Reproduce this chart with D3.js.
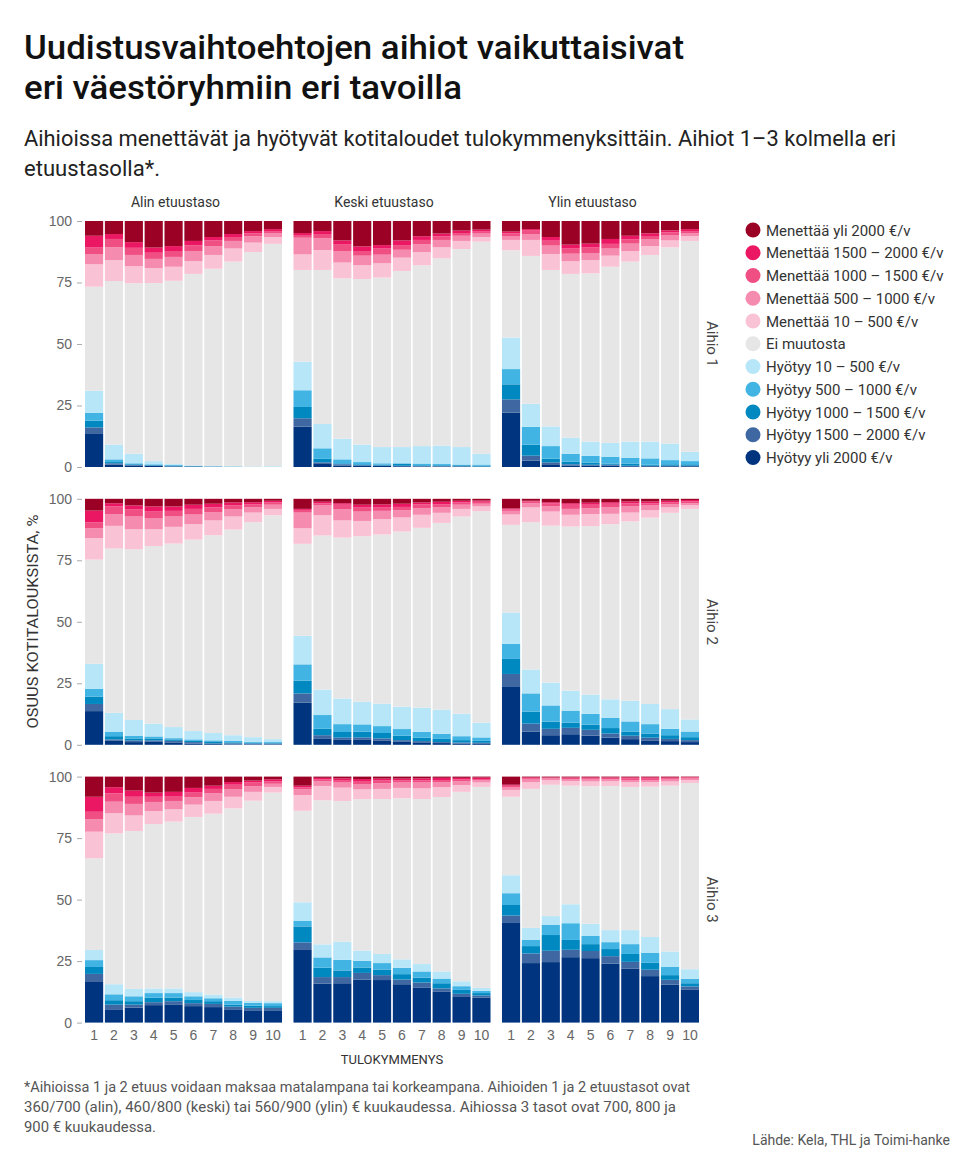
<!DOCTYPE html>
<html>
<head>
<meta charset="utf-8">
<script src="https://cdn.jsdelivr.net/npm/d3@7"></script>
<style>
  body { margin: 0; background: #fff; }
  svg { display: block; font-family: Roboto, "Noto Sans", sans-serif; }
</style>
</head>
<body>
<svg id="chart" width="960" height="1154"></svg>
<script>
// stack order, bottom to top
const categories = [
  "Hyötyy yli 2000 €/v",
  "Hyötyy 1500 – 2000 €/v",
  "Hyötyy 1000 – 1500 €/v",
  "Hyötyy 500 – 1000 €/v",
  "Hyötyy 10 – 500 €/v",
  "Ei muutosta",
  "Menettää 10 – 500 €/v",
  "Menettää 500 – 1000 €/v",
  "Menettää 1000 – 1500 €/v",
  "Menettää 1500 – 2000 €/v",
  "Menettää yli 2000 €/v",
];
const colors = [
  "#00347f", "#3f68a2", "#0088c0", "#41b4e3", "#b7e6f9",
  "#e6e6e6",
  "#fac3d5", "#f68bb0", "#f04f84", "#ec1763", "#9b0025",
];
const deciles = ["1", "2", "3", "4", "5", "6", "7", "8", "9", "10"];
const levels = ["Alin etuustaso", "Keski etuustaso", "Ylin etuustaso"];
const models = ["Aihio 1", "Aihio 2", "Aihio 3"];
const yTicks = [0, 25, 50, 75, 100];

// shares (%) per decile, values in the category order above
const a1_alin = [
  [13.7, 2.4, 2.7, 3.2, 9, 42.3, 9.1, 4, 2.8, 4.8, 6],
  [1, 0.5, 0.5, 1.1, 6, 66.5, 8.5, 5.2, 3.4, 2, 5.3],
  [0.5, 0.3, 0.3, 0.4, 3.9, 69.3, 6.9, 4.6, 2.9, 2.3, 8.6],
  [0.4, 0.2, 0.2, 0.3, 1.3, 72.4, 6, 3.8, 2.5, 2.1, 10.8],
  [0.2, 0.1, 0.3, 0.3, 0.3, 74.5, 5.7, 4, 2.4, 2, 10.2],
  [0.1, 0.1, 0.2, 0.1, 0.1, 77.9, 5.2, 4.1, 2.3, 1.8, 8.1],
  [0.1, 0, 0.1, 0.1, 0.1, 80.2, 5.6, 3.6, 2.3, 1.4, 6.5],
  [0, 0, 0.1, 0.1, 0.1, 83.2, 5.3, 3.1, 1.6, 1.2, 5.3],
  [0, 0, 0, 0.1, 0.1, 87.2, 3.8, 2.6, 1.2, 0.9, 4.1],
  [0, 0, 0, 0.1, 0.2, 90.4, 2.7, 1.7, 0.8, 0.8, 3.3],
];
const a1_keski = [
  [16.4, 3.4, 4.6, 6.8, 11.6, 37.3, 6.3, 6.8, 1.1, 0.8, 4.9],
  [1.5, 0.4, 1.4, 4.3, 9.9, 62.6, 8.1, 4.8, 1.7, 1.2, 4.1],
  [0.5, 0.6, 0.4, 1.6, 8.4, 65.2, 6.4, 4.7, 2.6, 1.7, 7.9],
  [0.4, 0.3, 0.4, 0.9, 7.1, 67.3, 5.7, 3.8, 1.9, 1.9, 10.3],
  [0.4, 0.2, 0.4, 0.5, 6.6, 68.9, 5.8, 3.5, 2.5, 1.4, 9.8],
  [0.3, 0.2, 0.9, 0.1, 6.6, 71.6, 5.4, 3.2, 1.9, 1.9, 7.9],
  [0.2, 0.2, 0.3, 0.7, 7.1, 73.5, 5.3, 3.2, 1.8, 1.5, 6.2],
  [0.2, 0.2, 0.3, 0.5, 7.5, 76.1, 4.5, 3, 1.5, 1.1, 5.1],
  [0.2, 0.1, 0.4, 0.3, 7.1, 80.5, 3.3, 2.1, 1.1, 1, 3.9],
  [0.1, 0.1, 0.4, 0.4, 4.4, 86.2, 1.9, 1.4, 0.8, 0.8, 3.5],
];
const a1_ylin = [
  [22.1, 5.4, 6.1, 6.2, 12.8, 35.5, 4.2, 1.6, 1.1, 0.7, 4.3],
  [2.6, 2, 4.5, 7.2, 9.4, 60.1, 6.5, 2.4, 1.4, 0.6, 3.3],
  [1.1, 0.8, 1.5, 5.1, 8, 63.6, 6.5, 3.4, 2, 1.5, 6.5],
  [0.5, 0.6, 1.1, 3.2, 6.5, 66.6, 5.1, 3.1, 2.1, 1.6, 9.6],
  [0.6, 0.3, 0.9, 2.7, 5.8, 68.4, 5.4, 2.9, 2.2, 1.6, 9.2],
  [0.6, 0.3, 0.5, 2.8, 5.6, 71.6, 4.5, 2.9, 1.9, 2, 7.3],
  [0.3, 0.2, 0.9, 2.4, 6.5, 73.2, 4.3, 3, 1.7, 1.5, 6],
  [0.3, 0.2, 0.4, 2.6, 6.8, 75.9, 3.6, 2.7, 1.4, 1.1, 5],
  [0.3, 0.2, 0.6, 1.7, 6.7, 79.8, 2.8, 2.2, 1.1, 0.8, 3.8],
  [0.3, 0.2, 0.6, 1.3, 3.8, 85.7, 1.9, 1.3, 0.8, 0.8, 3.3],
];
const a2_alin = [
  [13.7, 2.9, 3, 3.2, 10.1, 42.4, 8.7, 4, 2.4, 4.8, 4.8],
  [1.6, 0.6, 1.3, 1.7, 7.8, 66.8, 9.2, 4.8, 3.1, 1.3, 1.8],
  [1.1, 0.7, 0.8, 1.1, 6.4, 69.4, 8.1, 5.2, 3, 1.5, 2.7],
  [1.2, 0.6, 0.8, 0.8, 5.2, 72.2, 6.8, 4.4, 2.8, 2.1, 3.1],
  [0.8, 0.8, 0.6, 0.5, 4.5, 74.6, 6.8, 4.2, 2.3, 1.8, 3.1],
  [0.5, 0.6, 0.5, 0.6, 3.4, 77.8, 6.3, 3.9, 2.3, 1.7, 2.4],
  [0.3, 0.3, 0.8, 0.4, 3, 80.4, 6, 3.4, 1.9, 1.5, 2],
  [0.2, 0.4, 0.4, 0.6, 2.3, 83.6, 5.3, 3, 1.6, 1.1, 1.5],
  [0.2, 0.3, 0.3, 0.4, 1.9, 87.4, 3.9, 2.2, 1.2, 0.8, 1.4],
  [0.2, 0.3, 0.2, 0.4, 1.2, 91, 2.6, 1.7, 1, 0.6, 0.8],
];
const a2_keski = [
  [17.1, 3.8, 5.2, 6.6, 11.6, 37.4, 6.3, 6.4, 1.1, 0.4, 4.1],
  [2.4, 1.5, 2.6, 5.6, 10.3, 62.7, 8.2, 4, 0.8, 0.7, 1.2],
  [2, 0.9, 2.3, 3.2, 10.4, 65.4, 7, 4.5, 1.9, 0.6, 1.8],
  [2, 1, 2.3, 3, 9.2, 67.3, 6.2, 3.8, 1.8, 1, 2.4],
  [1.6, 1, 2.2, 2.8, 9.1, 68.8, 6.2, 3.4, 1.5, 1.1, 2.3],
  [1.2, 0.7, 1.8, 2.7, 9.1, 71.2, 5.7, 3, 1.3, 1.3, 2],
  [1, 0.5, 1.4, 2.4, 9.8, 73.1, 5.3, 2.7, 1.5, 0.8, 1.5],
  [0.7, 0.4, 1.3, 2.1, 9.8, 75.9, 4.1, 2.3, 1.2, 1, 1.2],
  [0.5, 0.4, 1, 1.6, 9.1, 80.2, 3.1, 1.7, 0.9, 0.7, 0.8],
  [0.4, 0.4, 0.8, 1.4, 6, 86, 1.9, 1.1, 0.8, 0.5, 0.7],
];
const a2_ylin = [
  [23.5, 5.3, 6.1, 6.1, 12.8, 35.6, 4.2, 1.5, 0.6, 0.4, 3.9],
  [5.3, 3.3, 4.9, 7.4, 9.7, 59.9, 6, 1.7, 0.7, 0.3, 0.8],
  [3.9, 2.6, 2.9, 6.6, 9.3, 63.8, 5.7, 2.2, 1.1, 0.5, 1.4],
  [4.3, 2.6, 2.1, 4.9, 8.1, 66.7, 4.8, 2.4, 1.7, 0.6, 1.8],
  [3.7, 2.4, 2.1, 4.4, 7.8, 68.5, 4.9, 2.4, 1.4, 0.8, 1.6],
  [2.9, 1.7, 2.2, 4.1, 7.6, 71.2, 4.2, 2.7, 1.4, 0.6, 1.4],
  [2.3, 1.4, 1.7, 4.1, 8.4, 72.9, 3.6, 2.5, 1.2, 0.8, 1.1],
  [1.6, 1.3, 1.7, 3.8, 8.2, 75.7, 3.1, 1.9, 0.9, 0.7, 1.1],
  [1.5, 0.9, 1.5, 2.6, 8, 79.8, 2.2, 1.3, 0.8, 0.6, 0.8],
  [1.1, 0.8, 1.2, 2.3, 4.9, 85.6, 1.5, 0.8, 0.7, 0.6, 0.5],
];
const a3_alin = [
  [16.8, 3, 2.8, 2.8, 4.1, 37.3, 10.8, 5.1, 3, 6.1, 8.2],
  [5.4, 1.9, 1.8, 2.4, 4.1, 61.3, 8.2, 4.7, 3.4, 2.5, 4.3],
  [6.1, 1.2, 1.4, 2, 3, 64.2, 6.3, 4.7, 2.9, 2.5, 5.7],
  [7.1, 1.2, 1.8, 1.9, 1.9, 66.8, 5.3, 3.7, 2.1, 1.7, 6.5],
  [7.2, 1.5, 1.5, 1.8, 1.9, 67.8, 5, 3.4, 2, 1.7, 6.2],
  [6.7, 1.2, 1.3, 1.5, 1.7, 71.2, 5, 3, 1.9, 1.9, 4.6],
  [6.3, 1.3, 1.1, 1.2, 1.5, 73.5, 5.2, 3.1, 1.8, 1.3, 3.7],
  [5.4, 1.1, 0.8, 1.5, 1.4, 76.9, 4.7, 3, 1.9, 1.1, 2.2],
  [5, 1, 0.9, 1.1, 0.8, 81.4, 3.6, 2.3, 1.5, 0.8, 1.6],
  [5, 1, 0.7, 1.2, 0.8, 84.8, 2.3, 1.3, 1, 0.8, 1.1],
];
const a3_keski = [
  [29.8, 2.8, 6.5, 2.2, 7.6, 37.2, 6.4, 2.3, 0.9, 0.6, 3.7],
  [15.8, 2.7, 3.8, 4.2, 5.3, 58.6, 5.8, 1.9, 0.8, 0.6, 0.5],
  [16, 2.5, 2.7, 4.3, 7.4, 57.2, 5.4, 2.1, 1, 0.7, 0.7],
  [17.5, 2.7, 2.2, 2.7, 4.2, 61.5, 4, 2.2, 1.2, 0.8, 1],
  [17.3, 2, 2.3, 2.6, 3.7, 63, 4.1, 2.3, 1.1, 0.8, 0.8],
  [15.6, 1.9, 2.2, 2.6, 3.4, 65.5, 4.2, 2.2, 0.9, 0.7, 0.8],
  [14.3, 2, 2, 2.5, 3, 67.1, 4.3, 2.4, 0.9, 0.8, 0.7],
  [12.5, 1.4, 2.1, 1.9, 2.9, 70.9, 4, 2, 0.9, 0.9, 0.5],
  [10.7, 1, 1.6, 1.5, 2, 77, 2.8, 1.5, 0.8, 0.6, 0.5],
  [10.1, 0.9, 1, 0.9, 1.2, 81.7, 1.8, 0.9, 0.5, 0.6, 0.4],
];
const a3_ylin = [
  [40.5, 3, 4.3, 4.8, 7.3, 31.9, 2.8, 1.1, 0.6, 0.4, 3.3],
  [24.2, 3.9, 3, 2.6, 4.8, 56.5, 2.7, 1.1, 0.5, 0.4, 0.3],
  [24.6, 4.6, 6.4, 4.2, 3.5, 53.4, 1.8, 0.7, 0.3, 0.2, 0.3],
  [26.6, 3, 4, 6.8, 7.7, 48.2, 1.9, 0.8, 0.5, 0.2, 0.3],
  [26.2, 2.9, 2.8, 3.3, 5, 55.9, 1.9, 0.8, 0.5, 0.4, 0.3],
  [24, 3, 2.9, 2.8, 4.9, 58.6, 1.9, 0.8, 0.6, 0.2, 0.3],
  [22, 2.7, 3.2, 4, 5.7, 58.2, 1.9, 0.9, 0.7, 0.4, 0.3],
  [18.9, 2.6, 2.8, 4, 6.5, 61.1, 1.9, 0.8, 0.6, 0.5, 0.3],
  [15.4, 2, 1.9, 3.3, 6.3, 67.4, 1.7, 0.8, 0.5, 0.4, 0.3],
  [13.5, 1.2, 1.3, 1.8, 3.9, 75.7, 1.2, 0.6, 0.4, 0.2, 0.2],
];

const panelData = [
  [a1_alin, a1_keski, a1_ylin],
  [a2_alin, a2_keski, a2_ylin],
  [a3_alin, a3_keski, a3_ylin],
];

const svg = d3.select("#chart");

// title block
const title = svg.append("g").attr("fill", "#111").attr("font-weight", 500).attr("font-size", 33);
title.append("text").attr("x", 24).attr("y", 59).attr("textLength", 660)
  .attr("lengthAdjust", "spacingAndGlyphs").text("Uudistusvaihtoehtojen aihiot vaikuttaisivat");
title.append("text").attr("x", 24).attr("y", 99).attr("textLength", 438)
  .attr("lengthAdjust", "spacingAndGlyphs").text("eri väestöryhmiin eri tavoilla");

const sub = svg.append("g").attr("fill", "#222").attr("font-size", 22);
sub.append("text").attr("x", 24).attr("y", 146).attr("textLength", 872)
  .attr("lengthAdjust", "spacingAndGlyphs")
  .text("Aihioissa menettävät ja hyötyvät kotitaloudet tulokymmenyksittäin. Aihiot 1\u20133 kolmella eri");
sub.append("text").attr("x", 24).attr("y", 176).attr("textLength", 136)
  .attr("lengthAdjust", "spacingAndGlyphs").text("etuustasolla*.");

// facet layout
const colBand = d3.scaleBand().domain(levels).range([85, 699]).paddingInner(0.055);
const rowBand = d3.scaleBand().domain(models).range([221, 1022.6]).paddingInner(0.1145);
const x = d3.scaleBand().domain(deciles).range([0, colBand.bandwidth()]).paddingInner(0.086);
const y = d3.scaleLinear().domain([0, 100]).range([rowBand.bandwidth(), 0]);
const color = d3.scaleOrdinal().domain(categories).range(colors);
const stack = d3.stack().keys(categories);

models.forEach((model, r) => {
  levels.forEach((level, c) => {
    const rows = panelData[r][c].map((vals, i) => {
      const o = { decile: deciles[i] };
      categories.forEach((k, j) => (o[k] = vals[j]));
      return o;
    });
    const series = stack(rows);

    const g = svg.append("g")
      .attr("transform", `translate(${colBand(level)},${rowBand(model)})`);

    g.selectAll("g.layer")
      .data(series)
      .join("g")
      .attr("class", "layer")
      .attr("fill", (d) => color(d.key))
      .selectAll("rect")
      .data((d) => d)
      .join("rect")
      .attr("x", (d) => x(d.data.decile))
      .attr("width", x.bandwidth())
      .attr("y", (d) => y(d[1]))
      .attr("height", (d) => Math.max(0, y(d[0]) - y(d[1])));

    // y axis only on the first column
    if (c === 0) {
      const ya = g.append("g")
        .attr("transform", "translate(-3,0)")
        .call(d3.axisLeft(y).tickValues(yTicks).tickSize(5).tickPadding(5));
      ya.select(".domain").remove();
      ya.selectAll("line").attr("stroke", "#aaa");
      ya.selectAll("text").attr("fill", "#666").attr("font-size", 14).attr("font-family", null);
    }

    // decile labels under the last row
    if (r === models.length - 1) {
      const xa = g.append("g")
        .attr("transform", `translate(0,${rowBand.bandwidth()})`)
        .call(d3.axisBottom(x).tickSize(0).tickPadding(7));
      xa.select(".domain").remove();
      xa.selectAll("text").attr("fill", "#666").attr("font-size", 14).attr("font-family", null);
    }

    if (r === 0) {
      svg.append("text")
        .attr("x", colBand(level) + colBand.bandwidth() / 2 - 8)
        .attr("y", 207)
        .attr("text-anchor", "middle")
        .attr("fill", "#333")
        .attr("font-size", 14)
        .text(level);
    }
  });

  // row label on the right, reading downwards
  svg.append("text")
    .attr("transform", `translate(707,${rowBand(model) + rowBand.bandwidth() / 2}) rotate(90)`)
    .attr("text-anchor", "middle")
    .attr("fill", "#444")
    .attr("font-size", 15)
    .text(model);
});

// axis titles
svg.append("text")
  .attr("transform", `translate(38,${(221 + 1022) / 2}) rotate(-90)`)
  .attr("text-anchor", "middle")
  .attr("fill", "#333")
  .attr("font-size", 14)
  .attr("textLength", 214)
  .attr("lengthAdjust", "spacingAndGlyphs")
  .text("OSUUS KOTITALOUKSISTA, %");

svg.append("text")
  .attr("x", 392)
  .attr("y", 1064)
  .attr("text-anchor", "middle")
  .attr("fill", "#333")
  .attr("font-size", 13)
  .text("TULOKYMMENYS");

// legend, top category first
const legend = svg.append("g").attr("transform", "translate(753,230)");
const legendItem = legend.selectAll("g")
  .data(categories.slice().reverse())
  .join("g")
  .attr("transform", (d, i) => `translate(0,${i * 22.75})`);
legendItem.append("circle").attr("r", 7.5).attr("fill", (d) => color(d));
legendItem.append("text")
  .attr("x", 13)
  .attr("y", 5.5)
  .attr("fill", "#333")
  .attr("font-size", 15)
  .text((d) => d);

// footnote and source
const foot = svg.append("g").attr("fill", "#555").attr("font-size", 14);
const footLines = [
  ["*Aihioissa 1 ja 2 etuus voidaan maksaa matalampana tai korkeampana. Aihioiden 1 ja 2 etuustasot ovat", 666],
  ["360/700 (alin), 460/800 (keski) tai 560/900 (ylin) € kuukaudessa. Aihiossa 3 tasot ovat 700, 800 ja", 652],
  ["900 € kuukaudessa.", 132],
];
footLines.forEach(([t, w], i) => {
  foot.append("text").attr("x", 24).attr("y", 1092 + i * 20)
    .attr("textLength", w).attr("lengthAdjust", "spacingAndGlyphs").text(t);
});
svg.append("text")
  .attr("x", 950)
  .attr("y", 1145)
  .attr("text-anchor", "end")
  .attr("fill", "#555")
  .attr("font-size", 14)
  .text("Lähde: Kela, THL ja Toimi-hanke");
</script>
</body>
</html>
